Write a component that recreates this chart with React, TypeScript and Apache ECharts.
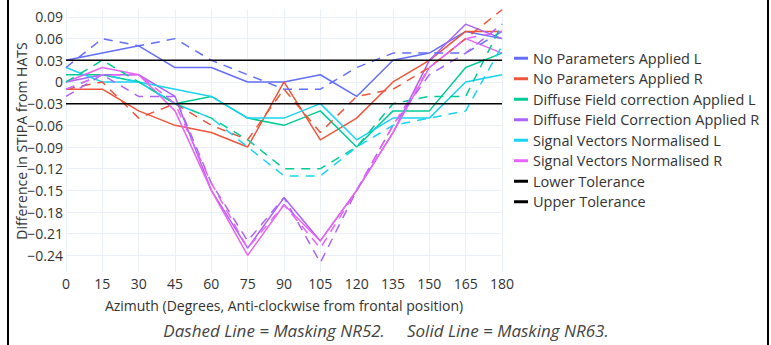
import React, { useEffect, useRef } from "react";
import * as echarts from "echarts";

const azimuth = [0, 15, 30, 45, 60, 75, 90, 105, 120, 135, 150, 165, 180];
const xTicks = [0, 15, 30, 45, 60, 75, 90, 105, 120, 135, 150, 165, 180];
const yTicks = [-0.24, -0.21, -0.18, -0.15, -0.12, -0.09, -0.06, -0.03, 0, 0.03, 0.06, 0.09];

// Solid lines = Masking NR63
const npaL_NR63 = [0.03, 0.04, 0.05, 0.02, 0.02, 0, 0, 0.01, -0.02, 0.03, 0.04, 0.07, 0.06];
const npaR_NR63 = [-0.01, -0.01, -0.04, -0.06, -0.07, -0.09, 0, -0.08, -0.05, 0, 0.03, 0.07, 0.07];
const dfcL_NR63 = [0.01, 0.01, 0, -0.03, -0.02, -0.05, -0.06, -0.04, -0.09, -0.04, -0.04, 0.02, 0.04];
const dfcR_NR63 = [0, 0.01, 0.01, -0.02, -0.15, -0.23, -0.16, -0.22, -0.15, -0.07, 0.03, 0.08, 0.06];
const svnL_NR63 = [0.02, 0, 0, -0.01, -0.02, -0.05, -0.05, -0.03, -0.08, -0.05, -0.05, 0, 0.01];
const svnR_NR63 = [0, 0.02, 0.01, -0.04, -0.15, -0.24, -0.17, -0.22, -0.15, -0.07, 0.02, 0.06, 0.04];

// Dashed lines = Masking NR52
const npaL_NR52 = [0.02, 0.06, 0.05, 0.06, 0.03, 0.01, -0.01, -0.01, 0.02, 0.04, 0.04, 0.04, 0.07];
const npaR_NR52 = [-0.01, 0, -0.05, -0.03, -0.06, -0.08, -0.01, -0.07, -0.02, -0.01, 0.02, 0.06, 0.1];
const dfcL_NR52 = [0, 0.03, 0, -0.03, -0.05, -0.08, -0.12, -0.12, -0.09, -0.03, -0.02, -0.02, 0.08];
const dfcR_NR52 = [-0.02, 0.01, -0.02, -0.02, -0.14, -0.22, -0.16, -0.25, -0.15, -0.06, 0.01, 0.04, 0.08];
const svnL_NR52 = [-0.01, 0.01, 0, -0.03, -0.05, -0.09, -0.13, -0.13, -0.09, -0.06, -0.05, -0.04, 0.05];
const svnR_NR52 = [-0.01, 0.01, 0.01, -0.03, -0.14, -0.23, -0.17, -0.23, -0.15, -0.06, 0.02, 0.06, 0.07];

const lowerTol = [-0.03, -0.03];
const upperTol = [0.03, 0.03];
const tolX = [0, 180];

const names = [
  "No Parameters Applied L",
  "No Parameters Applied R",
  "Diffuse Field correction Applied L",
  "Diffuse Field Correction Applied R",
  "Signal Vectors Normalised L",
  "Signal Vectors Normalised R",
];
const colors = ["#636efa", "#ef553b", "#00cc96", "#ab63fa", "#19d3f3", "#e763fa"];
const solidSets = [npaL_NR63, npaR_NR63, dfcL_NR63, dfcR_NR63, svnL_NR63, svnR_NR63];
const dashedSets = [npaL_NR52, npaR_NR52, dfcL_NR52, dfcR_NR52, svnL_NR52, svnR_NR52];

const FONT = "'Open Sans', 'Noto Sans', sans-serif";

export default function App() {
  const ref = useRef<HTMLDivElement>(null);
  useEffect(() => {
    if (!ref.current) return;
    const chart = echarts.init(ref.current, undefined, { renderer: "svg" });
    const pairs = (xs: number[], ys: number[]) => xs.map((x, i) => [x, ys[i]]);
    const series: any[] = [];
    solidSets.forEach((d, i) => {
      series.push({
        type: "line",
        name: names[i],
        data: pairs(azimuth, d),
        symbol: "none",
        color: colors[i],
        lineStyle: { width: 1.5, color: colors[i], type: "solid" },
        z: 3,
      });
    });
    series.push({
      type: "line",
      name: "Lower Tolerance",
      data: pairs(tolX, lowerTol),
      symbol: "none",
      color: "#000",
      lineStyle: { width: 1.5, color: "#000" },
      z: 4,
    });
    series.push({
      type: "line",
      name: "Upper Tolerance",
      data: pairs(tolX, upperTol),
      symbol: "none",
      color: "#000",
      lineStyle: { width: 1.5, color: "#000" },
      z: 4,
    });
    dashedSets.forEach((d, i) => {
      series.push({
        type: "line",
        name: names[i],
        data: pairs(azimuth, d),
        symbol: "none",
        color: colors[i],
        lineStyle: { width: 1.5, color: colors[i], type: [9, 7] },
        z: 3,
      });
    });

    const fmtY = (v: number) => {
      if (Math.abs(v) < 1e-9) return "0";
      return (v < 0 ? "\u2212" : "") + Math.abs(v).toFixed(2);
    };

    chart.setOption({
      animation: false,
      backgroundColor: "#fff",
      textStyle: { fontFamily: FONT },
      grid: { left: 66, right: 269, top: 9, bottom: 73, outerBoundsMode: "none", containLabel: false },
      xAxis: {
        type: "value",
        min: 0,
        max: 180,
        interval: 15,
        axisLine: { show: false },
        axisTick: { show: false },
        splitLine: { show: true, lineStyle: { color: "#ebf0f8", width: 1 } },
        axisLabel: {
          margin: 4,
          color: "#333",
          fontSize: 14,
          fontFamily: FONT,
          formatter: (v: number) => (xTicks.includes(v) ? String(v) : ""),
        },
      },
      yAxis: {
        type: "value",
        min: -0.263,
        max: 0.101,
        axisLine: { show: false },
        axisTick: { show: false, customValues: yTicks },
        splitLine: { show: true, lineStyle: { color: "#ebf0f8", width: 1 } },
        axisLabel: {
          margin: 3,
          color: "#333",
          fontSize: 14,
          fontFamily: FONT,
          customValues: yTicks,
          formatter: fmtY,
        },
      },
      legend: {
        orient: "vertical",
        left: 514,
        top: 48,
        icon: "rect",
        itemWidth: 14,
        itemHeight: 3,
        itemGap: 0,
        padding: 0,
        data: [...names, "Lower Tolerance", "Upper Tolerance"],
        textStyle: { fontSize: 14.5, lineHeight: 20.5, color: "#333", fontFamily: FONT },
      },
      graphic: [
        {
          type: "text",
          x: 21,
          y: 141,
          rotation: Math.PI / 2,
          style: {
            text: "Difference in STIPA from HATS",
            fill: "#333",
            font: `14px ${FONT}`,
            textAlign: "center",
            textVerticalAlign: "middle",
          },
        },
        {
          type: "text",
          x: 284,
          y: 305,
          style: {
            text: "Azimuth (Degrees, Anti-clockwise from frontal position)",
            fill: "#333",
            font: `14px ${FONT}`,
            textAlign: "center",
            textVerticalAlign: "middle",
          },
        },
        {
          type: "text",
          x: 386,
          y: 330,
          style: {
            text: "Dashed Line = Masking NR52.\u00a0\u00a0\u00a0\u00a0\u00a0Solid Line = Masking NR63.",
            fill: "#444",
            font: `italic 17px ${FONT}`,
            textAlign: "center",
            textVerticalAlign: "middle",
          },
        },
        {
          type: "line",
          shape: { x1: 8, y1: 0, x2: 8, y2: 345 },
          style: { stroke: "#000", lineWidth: 2 },
        },
        {
          type: "line",
          shape: { x1: 768, y1: 0, x2: 768, y2: 345 },
          style: { stroke: "#000", lineWidth: 2 },
        },
      ],
      series,
    });
    return () => chart.dispose();
  }, []);
  return (
    <div
      ref={ref}
      style={{ position: "absolute", left: 0, top: 0, width: 771, height: 345 }}
    />
  );
}
